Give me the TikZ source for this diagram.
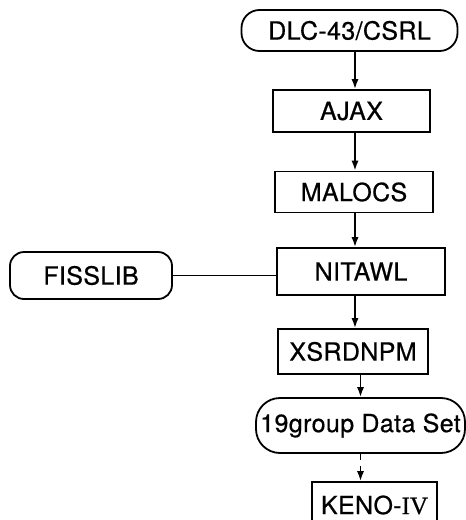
\documentclass[tikz,border=0pt]{standalone}
\usepackage{fontspec}
\setmainfont{TeX Gyre Heros}[LetterSpace=1.5, FakeBold=0.6]
\newfontfamily\romfont{Liberation Serif}[FakeBold=0.6]
\usetikzlibrary{arrows.meta}

\begin{document}
\begin{tikzpicture}[x=0.5pt,y=-0.5pt,
        box/.style={draw, line width=0.9pt, inner sep=0pt, font=\fontsize{12.5}{14}\selectfont},
        term/.style={box, rounded corners=9pt},
        arr/.style={line width=0.9pt, -{Latex[length=5pt,width=3.6pt]}}]
        \useasboundingbox (0,0) rectangle (466,520);
        \clip (0,0) rectangle (466,520);

        % chain of codes
        \node[term, minimum width=108pt, minimum height=20.5pt] (dlc) at (349.5,30.5) {DLC-43/CSRL};
        \node[box, minimum width=78.5pt, minimum height=21pt] (ajax) at (351.5,111) {AJAX};
        \node[box, minimum width=79pt, minimum height=20.5pt] (malocs) at (354,192) {MALOCS};
        \node[box, minimum width=84pt, minimum height=23.5pt] (nitawl) at (361,271.5) {NITAWL};
        \node[box, rounded corners=7pt, minimum width=81pt, minimum height=23.5pt] (fisslib) at (91,275.5) {FISSLIB};
        \node[box, minimum width=75pt, minimum height=22.5pt] (xsrdnpm) at (353,351.5) {XSRDNPM};
        \node[term, rounded corners=12pt, minimum width=104.5pt, minimum height=27.5pt] (data) at (360.5,425.5) {19group Data Set};
        \node[box, minimum width=62.5pt, minimum height=23pt] (keno) at (374.5,505) {KENO-{\romfont IV}};

        \coordinate (col) at (355,0);
        \draw[arr] (dlc.south -| col) -- (ajax.north -| col);
        \draw[arr] (ajax.south -| col) -- (malocs.north -| col);
        \draw[arr] (malocs.south -| col) -- (nitawl.north -| col);
        \draw[arr] (nitawl.south -| col) -- (xsrdnpm.north -| col);
        \draw[arr] (xsrdnpm.south -| data) -- (data.north);
        \draw[arr, dashed] (data.south) -- (data.south |- keno.north);

        \draw[line width=0.9pt] (fisslib.east) -- (fisslib.east -| nitawl.west);
    \end{tikzpicture}
\end{document}
